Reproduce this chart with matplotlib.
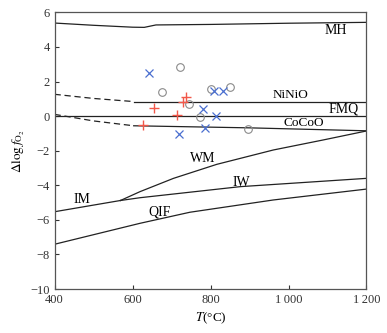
import matplotlib
matplotlib.use('Agg')
import matplotlib.pyplot as plt

plt.rcParams['font.family'] = ['Liberation Serif', 'DejaVu Serif']
plt.rcParams['mathtext.fontset'] = 'stix'

# buffer curves (T in degC, delta log fO2)
mh_t = [400, 500, 600, 630, 660, 800, 1000, 1200]
mh_y = [5.38, 5.25, 5.14, 5.13, 5.27, 5.30, 5.37, 5.42]
ninio_dash_t = [400, 500, 603]
ninio_dash_y = [1.26, 1.02, 0.84]
ninio_t = [603, 1200]
ninio_y = [0.82, 0.82]
fmq_t = [400, 1200]
fmq_y = [0.0, 0.0]
cocoo_dash_t = [400, 500, 603]
cocoo_dash_y = [0.1, -0.28, -0.56]
cocoo_t = [603, 900, 1200]
cocoo_y = [-0.56, -0.68, -0.85]
wm_t = [569, 619, 705, 816, 961, 1089, 1200]
wm_y = [-4.88, -4.37, -3.60, -2.79, -1.96, -1.38, -0.86]
im_t = [400, 569]
im_y = [-5.53, -4.88]
iw_t = [569, 619, 876, 1200]
iw_y = [-4.88, -4.72, -4.08, -3.60]
qif_t = [400, 619, 747, 961, 1200]
qif_y = [-7.41, -6.20, -5.56, -4.85, -4.22]

# samples
plus_t = [738, 730, 655, 714, 626]
plus_y = [1.09, 0.84, 0.46, 0.07, -0.50]
cross_t = [641, 720, 808, 831, 781, 815, 785]
cross_y = [2.47, -1.02, 1.47, 1.47, 0.40, -0.02, -0.70]
circ_t = [721, 676, 744, 800, 849, 774, 896]
circ_y = [2.82, 1.38, 0.69, 1.55, 1.70, -0.06, -0.73]

fig = plt.figure(figsize=(3.87, 3.33), dpi=100)
ax = fig.add_axes([0.141, 0.132, 0.806, 0.831])

lc = '#222222'
lw = 0.9
for t, y in [(mh_t, mh_y), (ninio_t, ninio_y), (fmq_t, fmq_y), (cocoo_t, cocoo_y),
             (wm_t, wm_y), (im_t, im_y), (iw_t, iw_y), (qif_t, qif_y)]:
    ax.plot(t, y, color=lc, lw=lw)
for t, y in [(ninio_dash_t, ninio_dash_y), (cocoo_dash_t, cocoo_dash_y)]:
    ax.plot(t, y, color=lc, lw=lw, ls=(0, (5, 3)))

ax.plot(circ_t, circ_y, 'o', mfc='none', mec='#8a8a8a', ms=5.5, mew=0.8)
ax.plot(cross_t, cross_y, 'x', color='#4a6fd0', ms=5.5, mew=0.9)
ax.plot(plus_t, plus_y, '+', color='#f2584a', ms=7, mew=1.0)

fs = 10
ax.text(1121, 4.94, 'MH', fontsize=fs, ha='center', va='center')
ax.text(1004, 1.22, 'NiNiO', fontsize=fs - 0.5, ha='center', va='center')
ax.text(1142, 0.41, 'FMQ', fontsize=fs, ha='center', va='center')
ax.text(1040, -0.42, 'CoCoO', fontsize=fs - 0.5, ha='center', va='center')
ax.text(780, -2.44, 'WM', fontsize=fs, ha='center', va='center')
ax.text(880, -3.83, 'IW', fontsize=fs, ha='center', va='center')
ax.text(470, -4.85, 'IM', fontsize=fs, ha='center', va='center')
ax.text(670, -5.56, 'QIF', fontsize=fs, ha='center', va='center')

ax.set_xlim(400, 1200)
ax.set_ylim(-10, 6)
ax.set_xticks([400, 600, 800, 1000, 1200])
ax.set_xticklabels(['400', '600', '800', '1\u2009000', '1\u2009200'])
ax.set_yticks(range(-10, 7, 2))
ax.set_yticklabels([str(v).replace('-', '\u2212') for v in range(-10, 7, 2)])
ax.tick_params(direction='in', length=3, width=0.8, labelsize=9, colors='#333333')
for s in ax.spines.values():
    s.set_color('#555555')
    s.set_linewidth(0.9)

ax.set_xlabel(r'$T$(°C)', fontsize=9.5, labelpad=3)
ax.set_ylabel(r'$\Delta\log f_{\mathrm{O}_2}$', fontsize=9.5, labelpad=2)

fig.savefig('out.png', dpi=100)
